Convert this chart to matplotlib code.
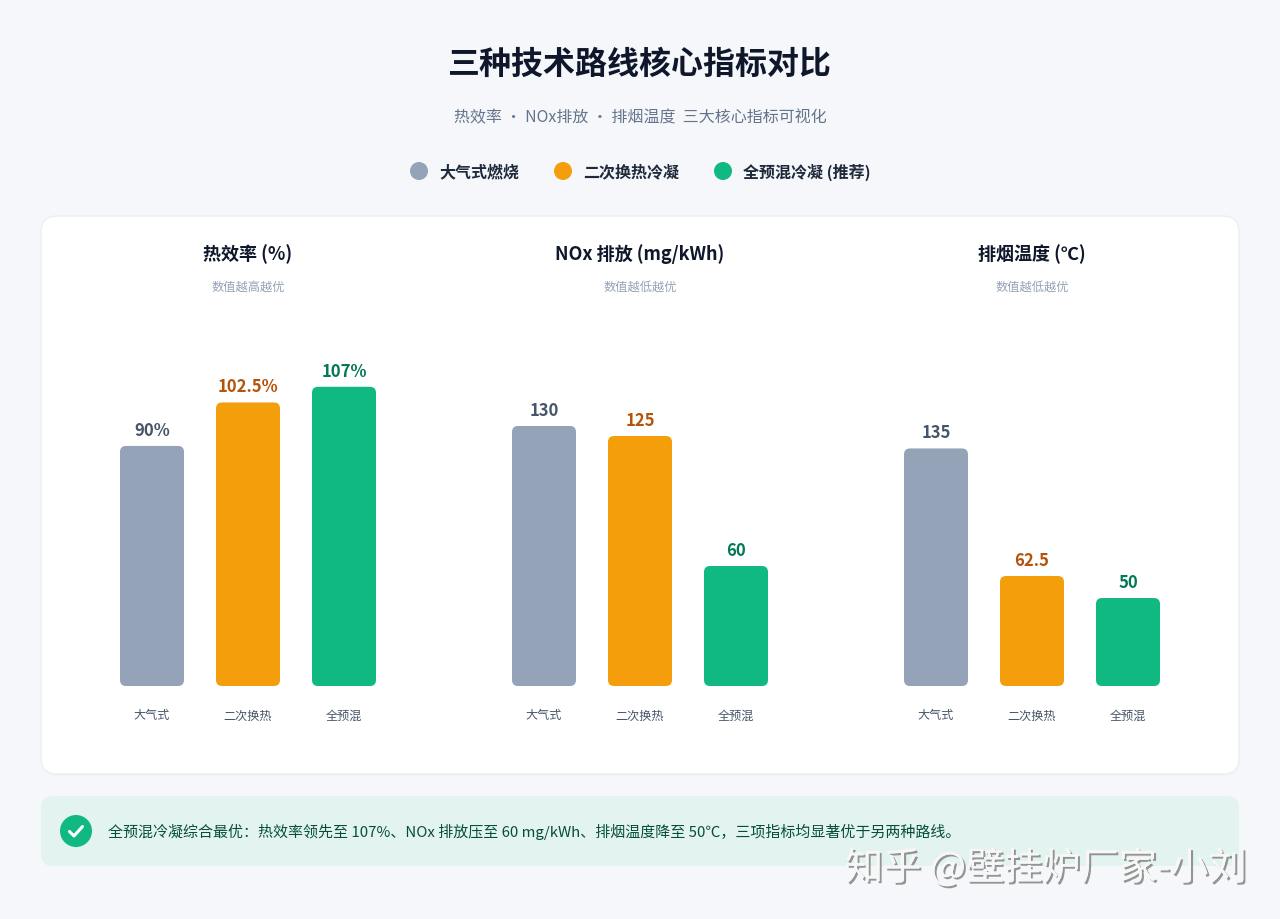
import matplotlib
matplotlib.use("Agg")
import matplotlib.pyplot as plt
from matplotlib.patches import FancyBboxPatch, Circle
import matplotlib.patheffects as pe

plt.rcParams['font.family'] = ['Noto Sans CJK SC', 'DejaVu Sans']

# ---------------- data ----------------
title = "三种技术路线核心指标对比"
subtitle = "热效率 ・ NOx排放 ・ 排烟温度  三大核心指标可视化"
series_names = ["大气式燃烧", "二次换热冷凝", "全预混冷凝 (推荐)"]
categories = ["大气式", "二次换热", "全预混"]
panel_titles = ["热效率 (%)", "NOx 排放 (mg/kWh)", "排烟温度 (℃)"]
panel_notes = ["数值越高越优", "数值越低越优", "数值越低越优"]
efficiency = [90, 102.5, 107]
nox = [130, 125, 60]
exhaust_temp = [135, 62.5, 50]
value_labels = [["90%", "102.5%", "107%"], ["130", "125", "60"], ["135", "62.5", "50"]]
summary = "全预混冷凝综合最优：热效率领先至 107%、NOx 排放压至 60 mg/kWh、排烟温度降至 50℃，三项指标均显著优于另两种路线。"
watermark = "知乎 @壁挂炉厂家-小刘"

bar_colors = ["#94a3b8", "#f59e0b", "#10b981"]
label_colors = ["#475569", "#b45309", "#047857"]
# axis ranges (baseline, top) for each panel
ranges = [(21, 121.6), (0, 175), (0, 198.9)]

W, H = 1280, 920
fig = plt.figure(figsize=(W / 100, H / 100), dpi=100, facecolor="#f5f7fb")

bg = fig.add_axes([0, 0, 1, 1], zorder=0)
bg.set_xlim(0, W)
bg.set_ylim(H, 0)
bg.axis("off")

# title & subtitle
bg.text(640, 65, title, ha="center", va="center", fontsize=23, fontweight="bold", color="#0f172a")
bg.text(640, 118, subtitle, ha="center", va="center", fontsize=11.5, color="#64748b")

# legend
leg_x = [419, 563, 723]
for x, name, c in zip(leg_x, series_names, bar_colors):
    bg.add_patch(Circle((x, 172), 9, color=c, lw=0))
    bg.text(x + 20, 172, name, ha="left", va="center", fontsize=11.5, fontweight="bold", color="#1e293b")

# card
bg.add_patch(FancyBboxPatch((42, 219), 1198, 558, boxstyle="round,pad=0,rounding_size=16",
                            fc="#edf0f5", ec="none", alpha=0.6))
bg.add_patch(FancyBboxPatch((41, 217), 1198, 558, boxstyle="round,pad=0,rounding_size=16",
                            fc="white", ec="#eceff4", lw=1))

# bottom summary box
bg.add_patch(FancyBboxPatch((41, 797), 1198, 70, boxstyle="round,pad=0,rounding_size=12",
                            fc="#e2f3f0", ec="none"))
bg.add_patch(Circle((76, 832), 16, color="#10b981", lw=0))
bg.plot([69.5, 74, 82.5], [832.5, 837, 827.5], color="white", lw=2.2, solid_capstyle="round",
        solid_joinstyle="round")
bg.text(108, 832, summary, ha="left", va="center", fontsize=10.8, fontweight="medium", color="#064e3b")

# watermark
bg.text(1247, 870, watermark, ha="right", va="center", fontsize=27.5, color="#f7f7f7",
        path_effects=[pe.withSimplePatchShadow(offset=(1.5, -1.5), shadow_rgbFace="#8a8a8a", alpha=0.9),
                      pe.Normal()], zorder=10)

panel_centers = [248, 640, 1032]
datasets = [efficiency, nox, exhaust_temp]
bottom_px, top_px = 687, 337
for i in range(3):
    cx = panel_centers[i]
    ax = fig.add_axes([(cx - 192) / W, (H - bottom_px) / H, 384 / W, (bottom_px - top_px) / H], zorder=2)
    ax.set_facecolor("none")
    lo, hi = ranges[i]
    ax.set_xlim(-1, 3)
    ax.set_ylim(lo, hi)
    ax.axis("off")
    py = (bottom_px - top_px) / (hi - lo)  # px per data unit
    bw = 64 / 96
    for j, v in enumerate(datasets[i]):
        r = 6 / 96
        patch = FancyBboxPatch((j - bw / 2, lo), bw, v - lo,
                               boxstyle=f"round,pad=0,rounding_size={r}",
                               mutation_aspect=96 / py, fc=bar_colors[j], ec="none")
        ax.add_patch(patch)
        ax.annotate(value_labels[i][j], (j, v), xytext=(0, 7), textcoords="offset pixels",
                    ha="center", va="bottom", fontsize=12, fontweight="bold", color=label_colors[j])
        bg.text(cx + (j - 1) * 96, 716, categories[j], ha="center", va="center", fontsize=8.7, color="#475569")
    bg.text(cx, 254, panel_titles[i], ha="center", va="center", fontsize=13, fontweight="bold", color="#0f172a")
    bg.text(cx, 287, panel_notes[i], ha="center", va="center", fontsize=8.8, color="#94a3b8")

fig.savefig("out.png", dpi=100, facecolor=fig.get_facecolor())
